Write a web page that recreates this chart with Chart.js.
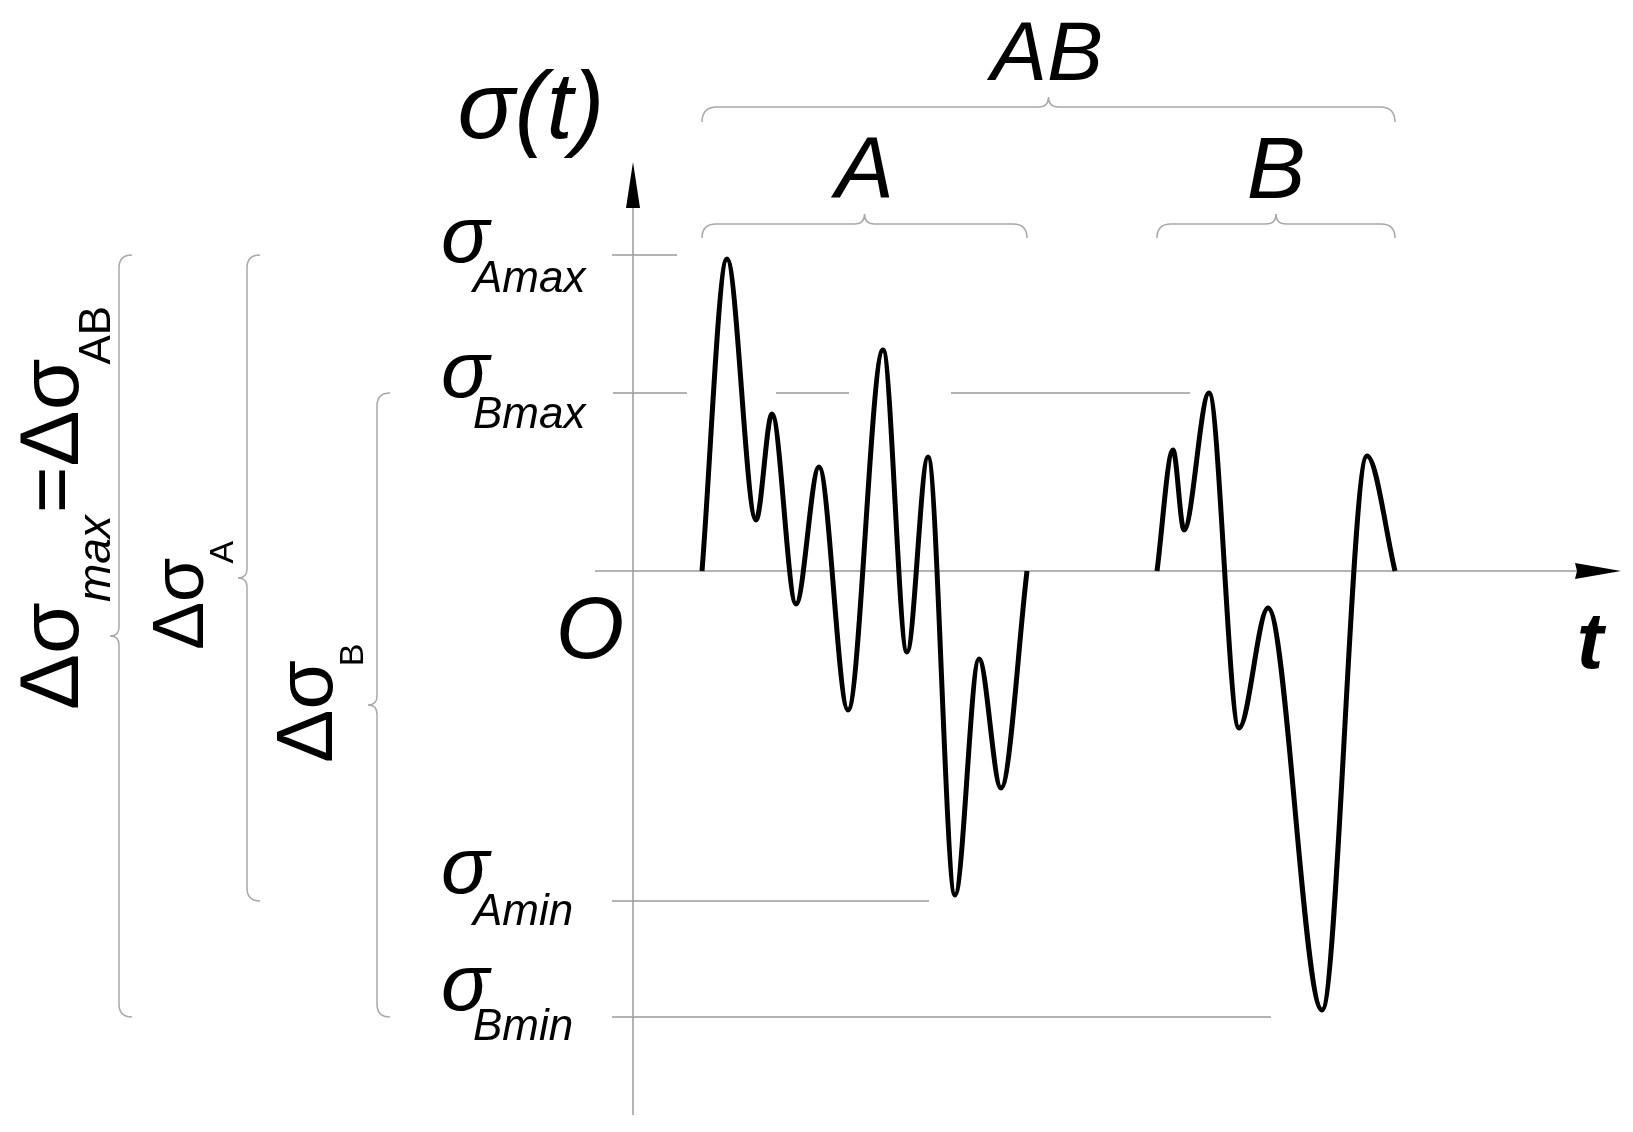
<!DOCTYPE html>
<html lang="en">
<head>
<meta charset="UTF-8">
<title>σ(t) – blocks A and B</title>
<script src="https://cdn.jsdelivr.net/npm/chart.js"></script>
<style>
  html, body { margin: 0; padding: 0; background: #fff; }
  #wrap { width: 1633px; height: 1132px; }
</style>
</head>
<body>
<div id="wrap"><canvas id="chart" width="1633" height="1132"></canvas></div>
<script>
// extrema of the two load blocks (t, sigma)
const tA = [6.9, 9.4, 12.3, 13.9, 16.3, 18.6, 21.5, 25.0, 27.4, 29.5, 32.2, 34.6, 36.8, 39.4];
const sA = [0, 31.2, 5.1, 15.7, -3.3, 10.4, -13.9, 22.1, -8.1, 11.4, -32.4, -8.8, -21.7, 0];
const tB = [52.4, 54.0, 55.1, 57.6, 60.6, 63.5, 68.9, 73.4, 76.2];
const sB = [0, 12.1, 4.1, 17.8, -15.7, -3.7, -43.9, 11.5, 0];

// levels marked on the sigma axis
const levelNames = ['Amax', 'Bmax', 'Amin', 'Bmin'];
const levels = [31.6, 17.8, -33.0, -44.6];
// t-spans of the thin reference lines (broken where the curve passes)
const refAmax = [[-2.1, 4.4]];
const refBmax = [[-2.0, 5.4], [14.3, 21.6], [31.8, 55.7]];
const refAmin = [[-2.1, 29.6]];
const refBmin = [[-2.1, 63.8]];
// axis extents
const tAxis = [-3.8, 98.8];
const sAxis = [-54.4, 40.9];

const FONT = "'Liberation Sans', Arial, sans-serif";
const GREY = '#9a9a9a';

function pts(ts, ss) {
  return ts.map((t, i) => ({ x: t, y: ss[i] }));
}
function segs(level, list) {
  const out = [];
  list.forEach(([a, b]) => {
    out.push({ x: a, y: level }, { x: b, y: level }, { x: b, y: null });
  });
  return out;
}
function thin(data) {
  return { data, borderColor: GREY, borderWidth: 1.5, pointRadius: 0, showLine: true, tension: 0 };
}

const sketch = {
  id: 'sketch',
  afterDatasetsDraw(chart) {
    const ctx = chart.ctx;
    const xs = chart.scales.x, ys = chart.scales.y;
    const px = v => xs.getPixelForValue(v);
    const py = v => ys.getPixelForValue(v);

    // arrow heads
    ctx.save();
    ctx.fillStyle = '#000';
    const tx = px(tAxis[1]), y0 = py(0);
    ctx.beginPath();
    ctx.moveTo(tx, y0); ctx.lineTo(tx - 46, y0 - 8); ctx.lineTo(tx - 44, y0); ctx.lineTo(tx - 46, y0 + 8);
    ctx.closePath(); ctx.fill();
    const sy = py(sAxis[1]), x0 = px(0);
    ctx.beginPath();
    ctx.moveTo(x0, sy); ctx.lineTo(x0 - 7, sy + 46); ctx.lineTo(x0 + 7, sy + 46);
    ctx.closePath(); ctx.fill();
    ctx.restore();

    // braces
    ctx.save();
    ctx.strokeStyle = '#a8a8a8';
    ctx.lineWidth = 1.5;
    function hBrace(x1, x2, y, endDy, tipDy) {
      const xm = (x1 + x2) / 2;
      ctx.beginPath();
      ctx.moveTo(x1, y + endDy);
      ctx.quadraticCurveTo(x1, y, x1 + endDy, y);
      ctx.lineTo(xm - tipDy, y);
      ctx.quadraticCurveTo(xm, y, xm, y - tipDy);
      ctx.quadraticCurveTo(xm, y, xm + tipDy, y);
      ctx.lineTo(x2 - endDy, y);
      ctx.quadraticCurveTo(x2, y, x2, y + endDy);
      ctx.stroke();
    }
    function vBrace(x, y1, y2, endDx, tipDx) {
      const ym = (y1 + y2) / 2;
      ctx.beginPath();
      ctx.moveTo(x + endDx, y1);
      ctx.quadraticCurveTo(x, y1, x, y1 + endDx);
      ctx.lineTo(x, ym - tipDx);
      ctx.quadraticCurveTo(x, ym, x - tipDx, ym);
      ctx.quadraticCurveTo(x, ym, x, ym + tipDx);
      ctx.lineTo(x, y2 - endDx);
      ctx.quadraticCurveTo(x, y2, x + endDx, y2);
      ctx.stroke();
    }
    hBrace(px(tA[0]), px(tB[tB.length - 1]), 107, 15, 10);
    hBrace(px(tA[0]), px(tA[tA.length - 1]), 224, 14, 10);
    hBrace(px(tB[0]), px(tB[tB.length - 1]), 224, 14, 10);
    vBrace(119, py(levels[0]), py(levels[3]), 13, 9);
    vBrace(247, py(levels[0]), py(levels[2]), 13, 9);
    vBrace(377, py(levels[1]), py(levels[3]), 13, 9);
    ctx.restore();

    // texts
    ctx.save();
    ctx.fillStyle = '#000';
    ctx.textBaseline = 'alphabetic';
    function txt(s, x, y, font, align) {
      ctx.font = font;
      ctx.textAlign = align || 'left';
      ctx.fillText(s, x, y);
    }
    txt('σ(t)', 531, 138, 'italic 95px ' + FONT, 'center');
    txt('AB', 1047, 80, 'italic 84px ' + FONT, 'center');
    txt('A', px((tA[0] + tA[tA.length - 1]) / 2), 198, 'italic 88px ' + FONT, 'center');
    txt('B', px((tB[0] + tB[tB.length - 1]) / 2), 198, 'italic 88px ' + FONT, 'center');
    txt('O', 590, py(0) + 87, 'italic 88px ' + FONT, 'center');
    txt('t', 1590, py(0) + 97, 'italic bold 80px ' + FONT, 'center');

    const sigOff = [7, 4, -8, -7];
    const subOff = [37, 35, 24, 23];
    levels.forEach((lv, i) => {
      txt('σ', 441, py(lv) + sigOff[i], 'italic 80px ' + FONT);
      txt(levelNames[i], 473, py(lv) + subOff[i], 'italic 44px ' + FONT);
    });

    // rotated range labels
    function vRuns(x, y, runs) {
      ctx.save();
      ctx.translate(x, y);
      ctx.rotate(-Math.PI / 2);
      ctx.textAlign = 'left';
      let cx = 0;
      runs.forEach(r => {
        ctx.font = r.font;
        cx += r.pre || 0;
        ctx.fillText(r.s, cx, r.dy || 0);
        cx += ctx.measureText(r.s).width;
      });
      ctx.restore();
    }
    vRuns(78, 710, [
      { s: 'Δσ', font: '84px ' + FONT },
      { s: 'max', font: 'italic 46px ' + FONT, dy: 32 },
      { s: '=', font: '80px ' + FONT, pre: 2 },
      { s: 'Δσ', font: '84px ' + FONT },
      { s: 'AB', font: '44px ' + FONT, dy: 32, pre: -6 }
    ]);
    vRuns(203, 650, [
      { s: 'Δσ', font: '72px ' + FONT },
      { s: 'A', font: '34px ' + FONT, dy: 30, pre: -6 }
    ]);
    vRuns(332, 763, [
      { s: 'Δσ', font: '80px ' + FONT },
      { s: 'B', font: '34px ' + FONT, dy: 31, pre: -6 }
    ]);
    ctx.restore();
  }
};

new Chart(document.getElementById('chart').getContext('2d'), {
  type: 'scatter',
  data: {
    datasets: [
      { data: pts(tA, sA), borderColor: '#000', borderWidth: 5, pointRadius: 0, showLine: true, cubicInterpolationMode: 'monotone' },
      { data: pts(tB, sB), borderColor: '#000', borderWidth: 5, pointRadius: 0, showLine: true, cubicInterpolationMode: 'monotone' },
      thin(segs(levels[0], refAmax)),
      thin(segs(levels[1], refBmax)),
      thin(segs(levels[2], refAmin)),
      thin(segs(levels[3], refBmin)),
      thin([{ x: tAxis[0], y: 0 }, { x: tAxis[1] - 4, y: 0 }]),
      thin([{ x: 0, y: sAxis[0] }, { x: 0, y: sAxis[1] - 4 }])
    ]
  },
  options: {
    responsive: false,
    animation: false,
    layout: { padding: 0, autoPadding: false },
    plugins: { legend: { display: false }, tooltip: { enabled: false } },
    scales: {
      x: { display: false, min: -63.3, max: 100 },
      y: { display: false, min: -56.1, max: 57.1 }
    }
  },
  plugins: [sketch]
});
</script>
</body>
</html>
